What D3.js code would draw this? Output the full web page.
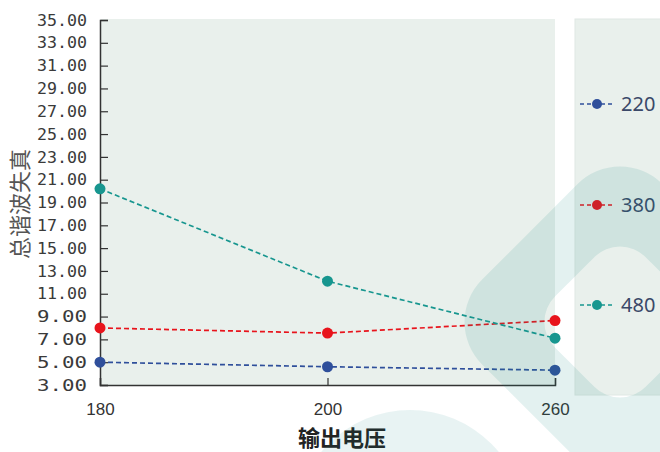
<!DOCTYPE html>
<html><head><meta charset="utf-8">
<script src="https://cdn.jsdelivr.net/npm/d3@7"></script>
<style>html,body{margin:0;padding:0;background:#fff;}svg{display:block;}</style>
</head><body>
<svg id="c" width="660" height="452"></svg>
<script>
const categories = ["180", "200", "260"];
const s220 = [5.0, 4.6, 4.3];
const s380 = [8.0, 7.55, 8.65];
const s480 = [20.2, 12.1, 7.1];
const seriesNames = ["220", "380", "480"];
const seriesColors = ["#2f4f9b", "#e8141c", "#17968f"];
const yTicks = [3,5,7,9,11,13,15,17,19,21,23,25,27,29,31,33,35];
const xTitle = "输出电压";
const yTitle = "总谐波失真";

const svg = d3.select("#c");
const L = 100, R = 555, T = 20, B = 385;
const x = d3.scalePoint().domain(categories).range([L, R]).padding(0);
const y = d3.scaleLinear().domain([3, 35]).range([B, T]);

// plot background
svg.append("rect").attr("x", L + 1).attr("y", T - 1).attr("width", R - L - 1).attr("height", B - T + 1).attr("fill", "#e9f0ec");
// legend box
svg.append("rect").attr("x", 575).attr("y", 19).attr("width", 90).attr("height", 376).attr("fill", "#e9f0ec").attr("stroke", "#dfe8e4");

// axes
const yAxis = d3.axisLeft(y).tickValues(yTicks).tickSize(-8).tickFormat(d => d3.format(".2f")(d)).tickPadding(13);
const gy = svg.append("g").attr("transform", `translate(${L},0)`).call(yAxis);
gy.select(".domain").attr("stroke", "#333").attr("stroke-width", 1.5);
gy.selectAll(".tick line").attr("stroke", "#333").attr("stroke-width", 1.2);
gy.selectAll(".tick text").attr("font-family", "DejaVu Sans Mono, Liberation Mono, monospace").attr("font-size", 16)
  .attr("fill", "#3a3a3a").attr("textLength", 50).attr("lengthAdjust", "spacingAndGlyphs");

const xAxis = d3.axisBottom(x).tickSize(-7).tickPadding(18);
const gx = svg.append("g").attr("transform", `translate(0,${B})`).call(xAxis);
gx.select(".domain").attr("stroke", "#333").attr("stroke-width", 1.5);
gx.selectAll(".tick line").attr("stroke", "#333").attr("stroke-width", 1.2);
gx.selectAll(".tick text").attr("font-family", "Liberation Sans, Arial, sans-serif").attr("font-size", 17).attr("fill", "#333");

// titles
svg.append("text").attr("x", 342).attr("y", 446).attr("text-anchor", "middle")
  .attr("font-family", "Noto Sans CJK SC").attr("font-weight", "bold").attr("font-size", 22).attr("fill", "#222").text(xTitle);
svg.append("text").attr("transform", "translate(28,204) rotate(-90)").attr("text-anchor", "middle")
  .attr("font-family", "Noto Sans CJK SC").attr("font-size", 22).attr("fill", "#555").text(yTitle);

// series
const allSeries = [s220, s380, s480];
const line = d3.line().x((d, i) => x(categories[i])).y(d => y(d));
allSeries.forEach((vals, k) => {
  svg.append("path").datum(vals).attr("d", line).attr("fill", "none")
    .attr("stroke", seriesColors[k]).attr("stroke-width", 1.7).attr("stroke-dasharray", "5,3");
  svg.selectAll(null).data(vals).enter().append("circle")
    .attr("cx", (d, i) => x(categories[i])).attr("cy", d => y(d)).attr("r", 5.5).attr("fill", seriesColors[k]);
});

// legend
const legY = [104, 205, 305];
seriesNames.forEach((n, k) => {
  const g = svg.append("g").attr("transform", `translate(0,${legY[k]})`);
  g.append("line").attr("x1", 580).attr("x2", 612).attr("y1", 0).attr("y2", 0)
    .attr("stroke", seriesColors[k]).attr("stroke-width", 1.7).attr("stroke-dasharray", "4,3");
  g.append("circle").attr("cx", 597).attr("cy", 0).attr("r", 5).attr("fill", seriesColors[k]);
  g.append("text").attr("x", 621).attr("y", 7).attr("font-family", "Noto Sans, sans-serif").attr("font-size", 20)
    .attr("fill", "#3a4868").text(n);
});

// watermark overlay
function rr(cx, cy, s, r) {
  const x0 = cx - s/2, y0 = cy - s/2, x1 = cx + s/2, y1 = cy + s/2;
  return `M${x0+r},${y0}H${x1-r}A${r},${r} 0 0 1 ${x1},${y0+r}V${y1-r}A${r},${r} 0 0 1 ${x1-r},${y1}H${x0+r}A${r},${r} 0 0 1 ${x0},${y1-r}V${y0+r}A${r},${r} 0 0 1 ${x0+r},${y0}Z`;
}
const wm = svg.append("g").attr("pointer-events", "none");
wm.append("path").attr("d", rr(0, 0, 255, 60) + rr(0, 0, 128, 36)).attr("fill-rule", "evenodd")
  .attr("transform", "translate(620,322) rotate(45)").attr("fill", "#1b8a87").attr("opacity", 0.12);
wm.append("circle").attr("cx", 410).attr("cy", 525).attr("r", 115).attr("fill", "#1b8a87").attr("opacity", 0.1);
</script>
</body></html>
